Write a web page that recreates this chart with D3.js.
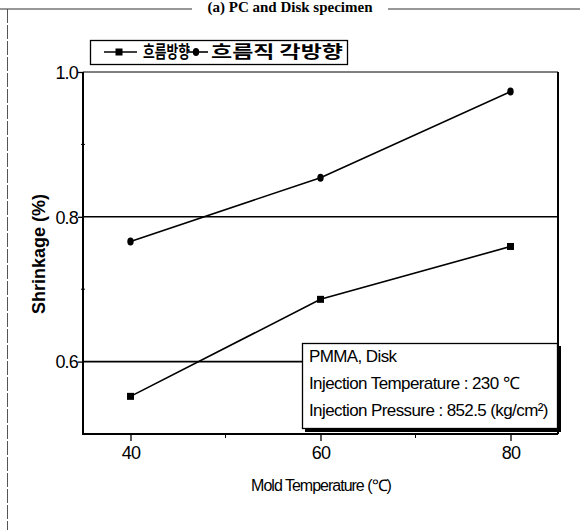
<!DOCTYPE html>
<html>
<head>
<meta charset="utf-8">
<script src="https://cdn.jsdelivr.net/npm/d3@7"></script>
<style>
  body { margin: 0; background: #fff; }
  svg { display: block; }
  .tick-label { font-family: "Liberation Sans Narrow", "Liberation Sans", Arial, sans-serif; font-size: 17px; letter-spacing: -0.8px; }
  .note { font-family: "Liberation Sans Narrow", "Liberation Sans", Arial, sans-serif; font-size: 17px; letter-spacing: -0.6px; }
</style>
</head>
<body>
<svg id="chart" width="580" height="530"></svg>
<script>
// =========
// Data
// =========

var mold_temps = [40, 60, 80];
var flow_dir = [0.552, 0.686, 0.759];        // 흐름방향 (squares)
var flow_perp = [0.766, 0.854, 0.973];       // 흐름직각방향 (circles)
var x_ticks = [40, 60, 80];
var x_minor = [50, 70];
var y_ticks = [0.6, 0.8, 1.0];
var y_minor = [0.7, 0.9];
var series_names = ['흐름방향', '흐름직 각방향'];
var note_lines = ['PMMA, Disk', 'Injection Temperature : 230 ℃', 'Injection Pressure : 852.5 (kg/cm²)'];

// =========
// Layout
// =========

var svg = d3.select('#chart');
var plot = {left: 83, right: 558, top: 72, bottom: 434};

var x = d3.scaleLinear().domain([35, 85]).range([plot.left, plot.right]);
var y = d3.scaleLinear().domain([0.5, 1.0]).range([plot.bottom, plot.top]);

// outer page frame (scan border)
svg.append('line').attr('x1', 0).attr('x2', 192).attr('y1', 9).attr('y2', 9)
    .attr('stroke', '#333').attr('stroke-width', 1.2);
svg.append('line').attr('x1', 388).attr('x2', 580).attr('y1', 9).attr('y2', 9)
    .attr('stroke', '#333').attr('stroke-width', 1.2);
svg.append('line').attr('x1', 7.5).attr('x2', 7.5).attr('y1', 9).attr('y2', 530)
    .attr('stroke', '#555').attr('stroke-width', 1).attr('stroke-dasharray', '14,2');

// title at top
svg.append('text')
    .attr('x', 290).attr('y', 12)
    .attr('text-anchor', 'middle')
    .style('font-family', '"Liberation Serif", "DejaVu Serif", serif')
    .style('font-weight', 'bold')
    .style('font-size', '15px')
    .text('(a) PC and Disk specimen');

// gridlines
svg.selectAll('.grid')
    .data([0.6, 0.8])
    .enter().append('line')
    .attr('class', 'grid')
    .attr('x1', plot.left).attr('x2', plot.right)
    .attr('y1', function(d){ return y(d); })
    .attr('y2', function(d){ return y(d); })
    .attr('stroke', '#000').attr('stroke-width', 1.6);

// plot frame
svg.append('line').attr('x1', plot.left).attr('x2', plot.right).attr('y1', plot.top).attr('y2', plot.top)
    .attr('stroke', '#000').attr('stroke-width', 1);
svg.append('line').attr('x1', plot.right).attr('x2', plot.right).attr('y1', plot.top).attr('y2', plot.bottom)
    .attr('stroke', '#000').attr('stroke-width', 2);

// y axis
var y_axis = svg.append('g')
    .attr('transform', 'translate(' + plot.left + ',0)')
    .call(d3.axisLeft(y).tickValues(y_ticks).tickSize(5).tickFormat(d3.format('.1f')));
y_axis.select('.domain').attr('stroke-width', 2).attr('d', 'M0,' + plot.top + 'V' + plot.bottom);
y_axis.selectAll('.tick line').attr('stroke-width', 1.3);
y_axis.selectAll('.tick text').attr('class', 'tick-label').attr('fill', '#000').attr('x', -5).attr('dy', '0.35em')
    .style('font-size', '18px');

svg.selectAll('.y-minor')
    .data(y_minor)
    .enter().append('line')
    .attr('class', 'y-minor')
    .attr('x1', plot.left - 2).attr('x2', plot.left + 2)
    .attr('y1', function(d){ return y(d); })
    .attr('y2', function(d){ return y(d); })
    .attr('stroke', '#000').attr('stroke-width', 1);

// x axis
var x_axis = svg.append('g')
    .attr('transform', 'translate(0,' + plot.bottom + ')')
    .call(d3.axisBottom(x).tickValues(x_ticks).tickSize(7).tickFormat(d3.format('d')));
x_axis.select('.domain').attr('stroke-width', 2).attr('d', 'M' + (plot.left - 1) + ',0H' + plot.right);
x_axis.selectAll('.tick line').attr('stroke-width', 1.3);
x_axis.selectAll('.tick text').attr('class', 'tick-label').attr('fill', '#000').attr('y', 12)
    .style('font-size', '18px');

svg.selectAll('.x-minor')
    .data(x_minor)
    .enter().append('line')
    .attr('class', 'x-minor')
    .attr('x1', function(d){ return x(d); })
    .attr('x2', function(d){ return x(d); })
    .attr('y1', plot.bottom).attr('y2', plot.bottom + 4)
    .attr('stroke', '#000').attr('stroke-width', 1);

// axis titles
svg.append('text')
    .attr('class', 'tick-label')
    .attr('x', 321).attr('y', 491)
    .attr('text-anchor', 'middle')
    .style('font-size', '16px')
    .style('letter-spacing', '-1px')
    .text('Mold Temperature (℃)');

svg.append('text')
    .attr('transform', 'translate(45,' + 254 + ') rotate(-90)')
    .attr('text-anchor', 'middle')
    .style('font-family', '"Liberation Sans", Arial, sans-serif')
    .style('font-weight', 'bold')
    .style('font-size', '18px')
    .text('Shrinkage (%)');

// =========
// Series
// =========

var line = d3.line()
    .x(function(d){ return x(d[0]); })
    .y(function(d){ return y(d[1]); });

var flow_pts = d3.zip(mold_temps, flow_dir);
var perp_pts = d3.zip(mold_temps, flow_perp);

svg.append('path').datum(flow_pts).attr('d', line)
    .attr('fill', 'none').attr('stroke', '#000').attr('stroke-width', 1.6);
svg.append('path').datum(perp_pts).attr('d', line)
    .attr('fill', 'none').attr('stroke', '#000').attr('stroke-width', 1.6);

svg.selectAll('.sq')
    .data(flow_pts)
    .enter().append('rect')
    .attr('class', 'sq')
    .attr('x', function(d){ return x(d[0]) - 3.5; })
    .attr('y', function(d){ return y(d[1]) - 3.5; })
    .attr('width', 7).attr('height', 7)
    .attr('fill', '#000');

svg.selectAll('.dot')
    .data(perp_pts)
    .enter().append('ellipse')
    .attr('class', 'dot')
    .attr('cx', function(d){ return x(d[0]); })
    .attr('cy', function(d){ return y(d[1]); })
    .attr('rx', 3.2).attr('ry', 4)
    .attr('fill', '#000');

// =========
// Legend
// =========

var legend = svg.append('g');
legend.append('rect')
    .attr('x', 90.5).attr('y', 40.5).attr('width', 257).attr('height', 24)
    .attr('fill', '#fff').attr('stroke', '#000').attr('stroke-width', 1.3);

var legend_items = [
    {name: series_names[0], x0: 104, x1: 137, mx: 119, shape: 'sq', tx: 143, w: 47},
    {name: series_names[1], x0: 188, x1: 208, mx: 196, shape: 'dot', tx: 211, w: 132}
];

legend_items.forEach(function(item){
    legend.append('line')
        .attr('x1', item.x0).attr('x2', item.x1).attr('y1', 52).attr('y2', 52)
        .attr('stroke', '#000').attr('stroke-width', 1.6);
    if(item.shape === 'sq'){
        legend.append('rect').attr('x', item.mx - 3.5).attr('y', 48.5).attr('width', 7).attr('height', 7).attr('fill', '#000');
    } else {
        legend.append('ellipse').attr('cx', item.mx).attr('cy', 52).attr('rx', 3.2).attr('ry', 4).attr('fill', '#000');
    }
    legend.append('text')
        .attr('x', item.tx).attr('y', 58)
        .attr('textLength', item.w)
        .attr('lengthAdjust', 'spacingAndGlyphs')
        .style('font-family', '"Noto Sans CJK KR", sans-serif')
        .style('font-weight', 'bold')
        .style('font-size', '17px')
        .text(item.name);
});

// =========
// Note box
// =========

var note = svg.append('g');
note.append('rect')
    .attr('x', 305).attr('y', 346).attr('width', 256).attr('height', 86)
    .attr('fill', '#000');
note.append('rect')
    .attr('x', 302.5).attr('y', 343.5).attr('width', 255).attr('height', 85)
    .attr('fill', '#fff').attr('stroke', '#000').attr('stroke-width', 1.3);

note.selectAll('.note')
    .data(note_lines)
    .enter().append('text')
    .attr('class', 'note')
    .attr('x', 309)
    .attr('y', function(d, i){ return 362 + i * 27; })
    .text(function(d){ return d; });
</script>
</body>
</html>
